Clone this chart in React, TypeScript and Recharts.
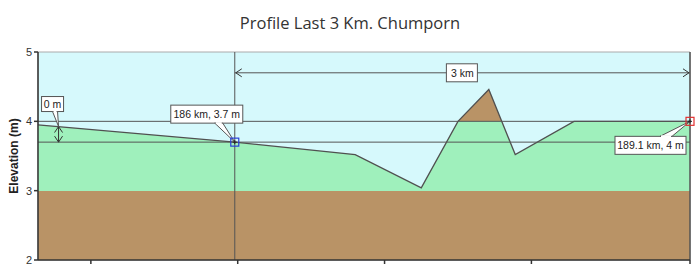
import {
  ComposedChart,
  Area,
  XAxis,
  YAxis,
  ReferenceArea,
  ReferenceLine,
  ReferenceDot,
} from 'recharts'

const title = 'Profile Last 3 Km. Chumporn'
const distKm = [184.66, 186, 186.82, 187.27, 187.52, 187.73, 187.91, 188.31, 189.1]
const elevM = [3.95, 3.7, 3.52, 3.04, 4.0, 4.46, 3.52, 4.0, 4.0]
const xTicks = [185.02, 186.02, 187.02, 188.02, 189.1]
const yTicks = [2, 3, 4, 5]

const data = distKm.map((d, i) => ({ d, e: elevM[i] }))

const yMin = 2
const yMax = 5
const eMax = Math.max(...elevM)
// gradient stops follow the area's own bounding box (top = max elevation, bottom = yMin)
const stop4 = (eMax - 4) / (eMax - yMin)
const stop3 = (eMax - 3) / (eMax - yMin)

const brown = '#b99366'
const green = '#9ff0bc'
const sky = '#d6f9fc'
const lineCol = '#555'
const font = '"Liberation Sans", Arial, sans-serif'
const labelSize = 10.5

function Callout(props: any) {
  const { bx, by, bw, bh, px, py, tx1, tx2, text } = props
  const edge = py > by ? by + bh : by
  return (
    <g>
      <rect x={bx} y={by} width={bw} height={bh} fill="#fff" stroke="#555" strokeWidth={1} />
      <path d={`M${tx1},${edge} L${px},${py} L${tx2},${edge} Z`} fill="#fff" stroke="#555" strokeWidth={1} />
      <rect x={Math.min(tx1, tx2) + 1} y={edge - 1} width={Math.abs(tx2 - tx1) - 2} height={2} fill="#fff" />
      <text
        x={bx + bw / 2}
        y={by + bh / 2 + 4}
        textAnchor="middle"
        fontSize={labelSize}
        fontFamily={font}
        fill="#222"
      >
        {text}
      </text>
    </g>
  )
}

function Arrow({ x, y, dir }: { x: number; y: number; dir: 'l' | 'r' | 'u' | 'd' }) {
  const s = 6
  let d = ''
  if (dir === 'l') d = `M${x + s},${y - s / 1.5} L${x},${y} L${x + s},${y + s / 1.5}`
  if (dir === 'r') d = `M${x - s},${y - s / 1.5} L${x},${y} L${x - s},${y + s / 1.5}`
  if (dir === 'u') d = `M${x - s / 1.5},${y + s} L${x},${y} L${x + s / 1.5},${y + s}`
  if (dir === 'd') d = `M${x - s / 1.5},${y - s} L${x},${y} L${x + s / 1.5},${y - s}`
  return <path d={d} fill="none" stroke="#333" strokeWidth={1} />
}

function SpanShape(props: any) {
  const { x1, y1, x2, y2 } = props
  const cx = (x1 + x2) / 2
  return (
    <g>
      <line x1={x1} y1={y1} x2={x2} y2={y2} stroke={lineCol} strokeWidth={1} />
      <Arrow x={x1 + 1} y={y1} dir="l" />
      <Arrow x={x2 - 1} y={y2} dir="r" />
      <rect x={cx - 16} y={y1 - 9} width={31} height={18} fill="#fff" stroke="#555" />
      <text x={cx} y={y1 + 4} textAnchor="middle" fontSize={labelSize} fontFamily={font} fill="#222">
        3 km
      </text>
    </g>
  )
}

function DropShape(props: any) {
  const { x1, y1, x2, y2 } = props
  const top = Math.min(y1, y2)
  const bot = Math.max(y1, y2)
  return (
    <g>
      <line x1={x1} y1={top} x2={x2} y2={bot} stroke="#333" strokeWidth={1} />
      <Arrow x={x1} y={top} dir="u" />
      <Arrow x={x1} y={bot} dir="d" />
      <Callout bx={x1 - 17} by={top - 30} bw={22} bh={15} px={x1} py={top} tx1={x1 - 6} tx2={x1 - 1} text="0 m" />
    </g>
  )
}

function StartMarker(props: any) {
  const { cx, cy } = props
  return (
    <g>
      <Callout bx={cx - 64} by={cy - 37} bw={72} bh={18} px={cx} py={cy} tx1={cx - 20} tx2={cx - 12} text="186 km, 3.7 m" />
      <rect x={cx - 4} y={cy - 4} width={8} height={8} fill="none" stroke="#2a3fd8" strokeWidth={1.2} />
      <path d={`M${cx - 2},${cy} H${cx + 2} M${cx},${cy - 2} V${cy + 2}`} stroke="#222" strokeWidth={1} />
    </g>
  )
}

function EndMarker(props: any) {
  const { cx, cy } = props
  return (
    <g>
      <Callout bx={cx - 75} by={cy + 15} bw={71} bh={18} px={cx} py={cy} tx1={cx - 30} tx2={cx - 18} text="189.1 km, 4 m" />
      <rect x={cx - 4} y={cy - 4} width={8} height={8} fill="none" stroke="#e03030" strokeWidth={1.2} />
      <path d={`M${cx - 2},${cy} H${cx + 2} M${cx},${cy - 2} V${cy + 2}`} stroke="#222" strokeWidth={1} />
    </g>
  )
}

export default function App() {
  return (
    <div style={{ position: 'absolute', left: 0, top: 0, width: 700, height: 274, background: '#fff' }}>
      <div
        style={{
          position: 'absolute',
          left: 0,
          top: 11,
          width: 700,
          textAlign: 'center',
          fontFamily: '"Open Sans", sans-serif',
          fontSize: 16.5,
          color: '#333',
        }}
      >
        {title}
      </div>
      <ComposedChart
        width={700}
        height={274}
        data={data}
        margin={{ top: 52, right: 10, bottom: 0, left: 8 }}
      >
        <defs>
          <linearGradient id="profileFill" x1="0" y1="0" x2="0" y2="1">
            <stop offset={0} stopColor={brown} />
            <stop offset={stop4} stopColor={brown} />
            <stop offset={stop4} stopColor={green} />
            <stop offset={stop3} stopColor={green} />
            <stop offset={stop3} stopColor={brown} />
            <stop offset={1} stopColor={brown} />
          </linearGradient>
        </defs>
        <XAxis
          dataKey="d"
          type="number"
          domain={[distKm[0], distKm[distKm.length - 1]]}
          ticks={xTicks}
          tickFormatter={() => ''}
          height={14}
          stroke="#333"
          tickSize={4}
          strokeWidth={1.5}
        />
        <YAxis
          type="number"
          domain={[yMin, yMax]}
          ticks={yTicks}
          width={30}
          stroke="#333"
          strokeWidth={1.5}
          tickSize={4}
          tick={{ fill: '#333', fontSize: 11, fontFamily: font }}
          label={{
            content: ({ viewBox }: any) => {
              const x = viewBox.x + 10
              const y = viewBox.y + viewBox.height / 2
              return (
                <text
                  x={x}
                  y={y}
                  transform={`rotate(-90, ${x}, ${y})`}
                  textAnchor="middle"
                  fontSize={12}
                  fontWeight="bold"
                  fontFamily={font}
                  fill="#222"
                >
                  Elevation (m)
                </text>
              )
            },
          }}
        />
        <ReferenceArea y1={yMin} y2={yMax} fill={sky} fillOpacity={1} stroke="#aaa" strokeWidth={1} />
        <Area
          type="linear"
          dataKey="e"
          baseValue={yMin}
          stroke="#505050"
          strokeWidth={1.3}
          fill="url(#profileFill)"
          fillOpacity={1}
          dot={false}
          activeDot={false}
          isAnimationActive={false}
        />
        <ReferenceLine y={4} stroke={lineCol} strokeWidth={1} />
        <ReferenceLine y={3.7} stroke={lineCol} strokeWidth={1} />
        <ReferenceLine x={186} stroke={lineCol} strokeWidth={1} />
        <ReferenceLine x={189.1} stroke={lineCol} strokeWidth={1.5} />
        <ReferenceLine
          segment={[
            { x: 186, y: 4.7 },
            { x: 189.1, y: 4.7 },
          ]}
          shape={SpanShape}
        />
        <ReferenceLine
          segment={[
            { x: 184.8, y: 3.925 },
            { x: 184.8, y: 3.7 },
          ]}
          shape={DropShape}
        />
        <ReferenceDot x={186} y={3.7} shape={StartMarker} />
        <ReferenceDot x={189.1} y={4} shape={EndMarker} />
      </ComposedChart>
    </div>
  )
}
